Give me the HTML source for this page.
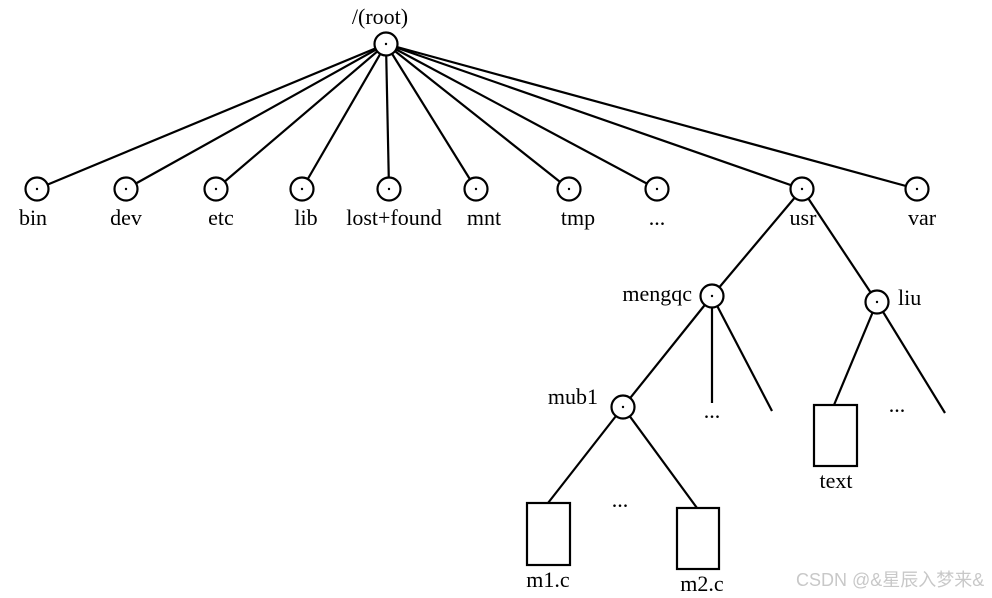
<!DOCTYPE html>
<html><head><meta charset="utf-8"><style>
html,body{margin:0;padding:0;background:#fff;}
svg{display:block;}
text{font-family:"Liberation Serif",serif;font-size:22px;fill:#000;}
</style></head><body>
<svg width="992" height="598" viewBox="0 0 992 598" xmlns="http://www.w3.org/2000/svg">
<g stroke="#000" stroke-width="2.2" fill="none">
<line x1="386" y1="44" x2="37" y2="189"/>
<line x1="386" y1="44" x2="126" y2="189"/>
<line x1="386" y1="44" x2="216" y2="189"/>
<line x1="386" y1="44" x2="302" y2="189"/>
<line x1="386" y1="44" x2="389" y2="189"/>
<line x1="386" y1="44" x2="476" y2="189"/>
<line x1="386" y1="44" x2="569" y2="189"/>
<line x1="386" y1="44" x2="657" y2="189"/>
<line x1="386" y1="44" x2="802" y2="189"/>
<line x1="386" y1="44" x2="917" y2="189"/>
<line x1="802" y1="189" x2="712" y2="296"/>
<line x1="802" y1="189" x2="877" y2="302"/>
<line x1="712" y1="296" x2="712" y2="403"/>
<line x1="712" y1="296" x2="772" y2="411"/>
<line x1="712" y1="296" x2="623" y2="407"/>
<line x1="877" y1="302" x2="834" y2="405"/>
<line x1="877" y1="302" x2="945" y2="413"/>
<line x1="623" y1="407" x2="548" y2="503"/>
<line x1="623" y1="407" x2="697" y2="508"/>
</g>
<g stroke="#000" stroke-width="2.2" fill="#fff">
<circle cx="386" cy="44" r="11.5"/>
<circle cx="37" cy="189" r="11.5"/>
<circle cx="126" cy="189" r="11.5"/>
<circle cx="216" cy="189" r="11.5"/>
<circle cx="302" cy="189" r="11.5"/>
<circle cx="389" cy="189" r="11.5"/>
<circle cx="476" cy="189" r="11.5"/>
<circle cx="569" cy="189" r="11.5"/>
<circle cx="657" cy="189" r="11.5"/>
<circle cx="802" cy="189" r="11.5"/>
<circle cx="917" cy="189" r="11.5"/>
<circle cx="712" cy="296" r="11.5"/>
<circle cx="877" cy="302" r="11.5"/>
<circle cx="623" cy="407" r="11.5"/>
<rect x="527" y="503" width="43" height="62"/>
<rect x="677" y="508" width="42" height="61"/>
<rect x="814" y="405" width="43" height="61"/>
</g>
<g fill="#000">
<circle cx="386" cy="44" r="1.2"/>
<circle cx="37" cy="189" r="1.2"/>
<circle cx="126" cy="189" r="1.2"/>
<circle cx="216" cy="189" r="1.2"/>
<circle cx="302" cy="189" r="1.2"/>
<circle cx="389" cy="189" r="1.2"/>
<circle cx="476" cy="189" r="1.2"/>
<circle cx="569" cy="189" r="1.2"/>
<circle cx="657" cy="189" r="1.2"/>
<circle cx="802" cy="189" r="1.2"/>
<circle cx="917" cy="189" r="1.2"/>
<circle cx="712" cy="296" r="1.2"/>
<circle cx="877" cy="302" r="1.2"/>
<circle cx="623" cy="407" r="1.2"/>
</g>
<text x="380" y="24" text-anchor="middle">/(root)</text>
<g text-anchor="middle">
<text x="33" y="225">bin</text>
<text x="126" y="225">dev</text>
<text x="221" y="225">etc</text>
<text x="306" y="225">lib</text>
<text x="394" y="225">lost+found</text>
<text x="484" y="225">mnt</text>
<text x="578" y="225">tmp</text>
<text x="657" y="225">...</text>
<text x="803" y="225">usr</text>
<text x="922" y="225">var</text>
<text x="712" y="418">...</text>
<text x="620" y="507">...</text>
<text x="897" y="412">...</text>
<text x="548" y="587">m1.c</text>
<text x="702" y="591">m2.c</text>
<text x="836" y="488">text</text>
</g>
<text x="692" y="301" text-anchor="end">mengqc</text>
<text x="898" y="305">liu</text>
<text x="598" y="404" text-anchor="end">mub1</text>
<text x="796" y="586" style="font-family:'Liberation Sans','Noto Sans CJK SC',sans-serif;font-size:18px;fill:#c8c8c8">CSDN @&amp;星辰入梦来&amp;</text>
</svg>
</body></html>
